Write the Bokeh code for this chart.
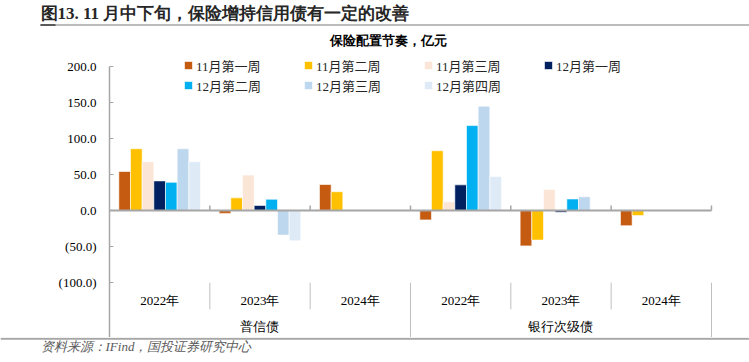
import numpy as np
from bokeh.plotting import figure
from bokeh.models import Range1d, FixedTicker, CustomJSTickFormatter, Legend, LegendItem
from bokeh.layouts import column
from bokeh.embed import file_html
from bokeh.resources import INLINE

# ---------------- data ----------------
groups = ["普信债", "普信债", "普信债", "银行次级债", "银行次级债", "银行次级债"]
years = ["2022年", "2023年", "2024年", "2022年", "2023年", "2024年"]
series_names = ["11月第一周", "11月第二周", "11月第三周", "12月第一周",
                "12月第二周", "12月第三周", "12月第四周"]
nan = float("nan")
w11_1 = [54.0, -4.0, 36.0, -13.0, -49.0, -21.0]
w11_2 = [85.5, 17.5, 26.0, 82.8, -41.0, -7.0]
w11_3 = [67.6, 49.0, nan, 12.0, 29.0, nan]
w12_1 = [41.0, 7.0, nan, 35.5, -2.5, nan]
w12_2 = [39.0, 15.6, nan, 117.6, 16.0, nan]
w12_3 = [85.5, -34.0, nan, 144.5, 19.0, nan]
w12_4 = [67.6, -42.0, nan, 47.0, -1.5, nan]
series_values = [w11_1, w11_2, w11_3, w12_1, w12_2, w12_3, w12_4]
y_ticks = [-100, -50, 0, 50, 100, 150, 200]

title_text = "图13. 11 月中下旬，保险增持信用债有一定的改善"
subtitle_text = "保险配置节奏，亿元"
source_text = "资料来源：IFind，国投证券研究中心"

# ---------------- styles / layout constants (page pixels) ----------------
colors = ["#C55A11", "#FFC000", "#FBE5D6", "#002060", "#00B0F0", "#BDD7EE", "#DEEBF7"]
GRAY = "#A6A6A6"
SERIF = "'Liberation Serif', 'Noto Sans CJK SC'"
SANS = "'Liberation Sans', 'Noto Sans CJK SC'"
W = 749
TH = 50          # title strip height
MAIN_H = 287     # main chart height
FH = 25          # footer strip height
PX_PER_UNIT = 0.722
ZERO_Y = 210     # page y of value 0
y_hi = (ZERO_Y - TH) / PX_PER_UNIT
y_lo = -(TH + MAIN_H - ZERO_Y) / PX_PER_UNIT
LEFT = 109
PX_PER_CAT = 100.33
x_end = (W - LEFT) / PX_PER_CAT

# ---------------- title figure ----------------
t = figure(width=W, height=TH, x_range=Range1d(0, W), y_range=Range1d(0, TH),
           x_axis_location=None, y_axis_location=None, output_backend="svg",
           toolbar_location=None, min_border=0, frame_align=False)
t.outline_line_color = None
t.grid.grid_line_color = None
t.text(x=[40], y=[TH - 12.5], text=[title_text], text_font=SANS, text_font_style="bold",
       text_font_size="17px", text_color="#262626", text_baseline="middle", text_align="left")
t.segment(x0=[40], y0=[TH - 24.5], x1=[W], y1=[TH - 24.5], line_color=GRAY, line_width=1.5)
t.segment(x0=[40], y0=[TH - 24.5], x1=[55], y1=[TH - 24.5], line_color="#595959", line_width=2)
t.text(x=[388], y=[TH - 40], text=[subtitle_text], text_font=SANS, text_font_style="bold",
       text_font_size="13px", text_color="black", text_baseline="middle", text_align="center")

# ---------------- main figure ----------------
p = figure(width=W, height=MAIN_H, x_range=Range1d(0, x_end), y_range=Range1d(y_lo, y_hi),
           x_axis_location=None, output_backend="svg", toolbar_location=None,
           min_border_left=LEFT, min_border_right=0, min_border_top=0, min_border_bottom=0,
           frame_align=False)
p.outline_line_color = None
p.grid.grid_line_color = None

ncat = len(years)
centers = np.arange(ncat) + 0.5
nser = len(series_values)
bw = 0.1163

renderers = []
for j, (vals, col) in enumerate(zip(series_values, colors)):
    xs = centers + (j - (nser - 1) / 2) * bw
    r = p.vbar(x=xs, top=vals, bottom=0, width=bw, fill_color=col,
               line_color="white", line_width=0.6)
    renderers.append(r)

# zero line and boundary ticks
p.segment(x0=[0], y0=[0], x1=[ncat], y1=[0], line_color=GRAY, line_width=2)
bounds_x = np.arange(1, ncat + 1)
p.segment(x0=bounds_x, y0=[0] * ncat, x1=bounds_x, y1=[5 / PX_PER_UNIT] * ncat,
          line_color=GRAY, line_width=1.5)

# category label separators
sep_year_x, sep_grp_x = [], []
for i in range(1, ncat + 1):
    if i == ncat or groups[i] != groups[i - 1]:
        sep_grp_x.append(i)
    else:
        sep_year_x.append(i)
p.segment(x0=sep_year_x, y0=[-100] * len(sep_year_x), x1=sep_year_x,
          y1=[-137] * len(sep_year_x), line_color="#BFBFBF", line_width=1)
p.segment(x0=sep_grp_x, y0=[-100] * len(sep_grp_x), x1=sep_grp_x,
          y1=[y_lo] * len(sep_grp_x), line_color="#BFBFBF", line_width=1)

p.text(x=centers, y=[-124] * ncat, text=years, text_font=SERIF, text_font_size="13px",
       text_color="black", text_align="center", text_baseline="middle")
group_names = list(dict.fromkeys(groups))
group_x = [float(np.mean([c for c, g in zip(centers, groups) if g == gn])) for gn in group_names]
p.text(x=group_x, y=[-161] * len(group_names), text=group_names, text_font=SERIF,
       text_font_size="13px", text_color="black", text_align="center", text_baseline="middle")

# y axis
ax = p.yaxis[0]
ax.ticker = FixedTicker(ticks=y_ticks)
ax.formatter = CustomJSTickFormatter(
    code="return tick < 0 ? '(' + Math.abs(tick).toFixed(1) + ')' : tick.toFixed(1);")
ax.bounds = (y_lo, max(y_ticks))
ax.major_tick_in = 4
ax.major_tick_out = 0
ax.minor_tick_line_color = None
ax.axis_line_color = GRAY
ax.axis_line_width = 1.5
ax.major_tick_line_color = GRAY
ax.major_label_text_font = "Liberation Serif"
ax.major_label_text_font_size = "13px"
ax.major_label_text_color = "black"
ax.major_label_standoff = 13

legend = Legend(items=[LegendItem(label=n, renderers=[r]) for n, r in zip(series_names, renderers)],
                orientation="horizontal", ncols=4, location=(74, 242),
                glyph_width=10, glyph_height=10, label_width=107, label_height=20,
                label_standoff=3, spacing=0, padding=0, margin=0,
                border_line_color=None, background_fill_alpha=0,
                label_text_font=SERIF, label_text_font_size="13px", label_text_color="#262626")
p.add_layout(legend)

# ---------------- footer figure ----------------
f = figure(width=W, height=FH, x_range=Range1d(0, W), y_range=Range1d(0, FH),
           x_axis_location=None, y_axis_location=None, output_backend="svg",
           toolbar_location=None, min_border=0, frame_align=False)
f.outline_line_color = None
f.grid.grid_line_color = None
f.segment(x0=[0], y0=[FH - 1.2], x1=[W], y1=[FH - 1.2], line_color=GRAY, line_width=2)
f.text(x=[40], y=[FH - 9], text=[source_text], text_font=SANS, text_font_style="italic",
       text_font_size="13px", text_color="#595959", text_baseline="middle", text_align="left")

layout = column(t, p, f, spacing=0)
open("out.html", "w").write(file_html(layout, INLINE))
